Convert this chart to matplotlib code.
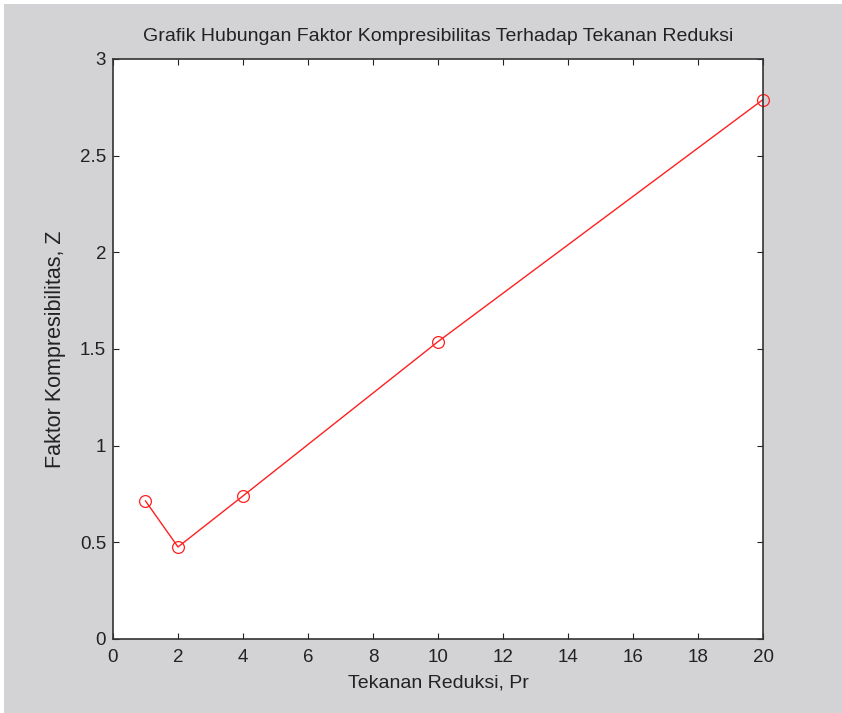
import matplotlib
matplotlib.use('Agg')
import matplotlib.pyplot as plt
from matplotlib.patches import Rectangle

# Data
tekanan = [1, 2, 4, 10, 20]
faktor_z = [0.714, 0.476, 0.74, 1.538, 2.79]
x_ticks = [0, 2, 4, 6, 8, 10, 12, 14, 16, 18, 20]
y_ticks = [0, 0.5, 1, 1.5, 2, 2.5, 3]
y_labels = ['0', '0.5', '1', '1.5', '2', '2.5', '3']

plt.rcParams['font.family'] = ['Liberation Sans', 'DejaVu Sans']

fig = plt.figure(figsize=(8.42, 7.13), dpi=100, facecolor='white')
# gray panel with thin white margin top/left
fig.patches.append(Rectangle((4 / 842, 0), 1, 1 - 4 / 713, transform=fig.transFigure,
                             facecolor='#d3d3d5', edgecolor='none', zorder=-10))

ax = fig.add_axes([0.1342, 0.1038, 0.772, 0.8135])
ax.set_zorder(5)
ax.set_facecolor('white')

ax.plot(tekanan, faktor_z, color='#ff2020', linewidth=1.0,
        marker='o', markersize=8.5, markerfacecolor='none',
        markeredgecolor='#ff2020', markeredgewidth=0.9, clip_on=False)

ax.set_xlim(0, 20)
ax.set_ylim(0, 3)
ax.set_xticks(x_ticks)
ax.set_yticks(y_ticks)
ax.set_yticklabels(y_labels)
ax.tick_params(direction='in', length=4, width=0.8, labelsize=13.5,
               top=True, right=True, colors='#222222')
ax.tick_params(axis='x', pad=7)
ax.tick_params(axis='y', pad=5)

for s in ax.spines.values():
    s.set_color('#333333')
    s.set_linewidth(1.2)

ax.set_title('Grafik Hubungan Faktor Kompresibilitas Terhadap Tekanan Reduksi',
             fontsize=14, pad=13, color='#222222')
ax.set_xlabel('Tekanan Reduksi, Pr', fontsize=14, color='#222222', labelpad=6)
ax.set_ylabel('Faktor Kompresibilitas, Z', fontsize=15.5, color='#222222', labelpad=10)

fig.savefig('out.png', dpi=100, facecolor=fig.get_facecolor())
plt.close(fig)
